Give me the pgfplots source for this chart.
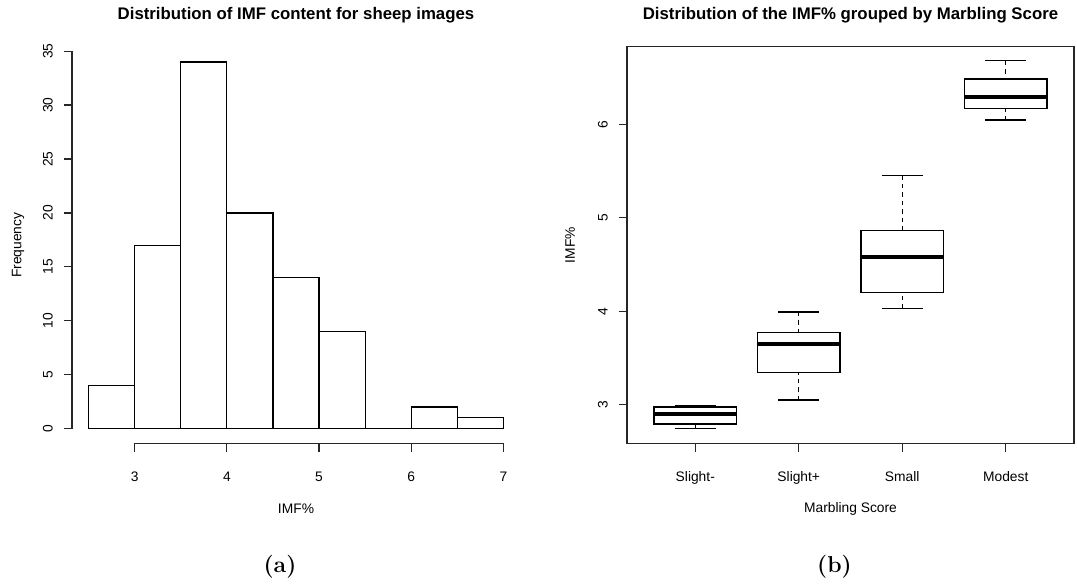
\documentclass[border=0pt]{standalone}
\usepackage{fontspec}
\setsansfont{Liberation Sans}
\usepackage{pgfplots}
\pgfplotsset{compat=1.18}
\usepgfplotslibrary{statistics}

% R base-graphics look: outside ticks, sans labels, rotated y tick labels
\pgfplotsset{
  rplot/.style={
    scale only axis,
    /pgf/number format/assume math mode=true,
    tick align=outside,
    tick pos=left,
    major tick length=4.2pt,
    every tick/.style={black!85, line width=0.6pt},
    ticklabel style={font=\sffamily\fontsize{6.9}{8}\selectfont, text=black},
    xticklabel style={anchor=north, yshift=-6.5pt},
    yticklabel style={xshift=-1.9pt, rotate=90, anchor=south},
    label style={font=\sffamily\fontsize{6.9}{8}\selectfont, text=black},
    % cancel the default 6pt lift of the title
    title style={font=\sffamily\bfseries\fontsize{8.4}{10}\selectfont, text=black, anchor=center, yshift=-6pt},
  },
}
\tikzset{
  rwhisker/.style={black, line width=0.6pt, dash pattern=on 2.2pt off 2pt},
  rstaple/.style={black, line width=0.6pt, solid},
}

\begin{document}
\begin{tikzpicture}
\path[use as bounding box] (0,0) rectangle (538.5pt,292.5pt);

% (a) histogram of IMF content
\begin{axis}[rplot,
  at={(36pt,70.9pt)}, anchor=south west,
  width=224pt, height=197.95pt,
  xmin=2.32, xmax=7.18, ymin=-1.36, ymax=35.36,
  axis lines*=left, axis line style={draw=none},
  xtick={3,4,5,6,7}, ytick={0,5,...,35},
  clip=false,
  title={Distribution of IMF content for sheep images},
  title style={at={(axis description cs:0.5,1.0803)}},
  xlabel={IMF\%},
  xlabel style={at={(axis description cs:0.5,-0.1667)}, anchor=center},
  ylabel={Frequency},
  ylabel style={at={(axis description cs:-0.1205,0.5)}, anchor=center},
]
\addplot[ybar interval, fill=white, draw=black, line width=0.6pt]
  coordinates {(2.5,4) (3,17) (3.5,34) (4,20) (4.5,14) (5,9) (5.5,0) (6,2) (6.5,1) (7,1)};
% axis lines span only the tick range
\draw[black!85, line width=0.6pt] (axis cs:3,-1.36) -- (axis cs:7,-1.36);
\draw[black!85, line width=0.6pt] (axis cs:2.32,0) -- (axis cs:2.32,35);
\end{axis}

% (b) boxplots of IMF% by marbling score
\begin{axis}[rplot,
  at={(313.5pt,70.85pt)}, anchor=south west,
  width=223.5pt, height=198.3pt,
  xmin=0.34, xmax=4.66, ymin=2.584, ymax=6.834,
  axis line style={black!85, line width=0.6pt},
  xtick={1,2,3,4}, xticklabels={Slight-,Slight+,Small,Modest},
  ytick={3,4,5,6},
  title={Distribution of the IMF\% grouped by Marbling Score},
  title style={at={(axis description cs:0.5,1.0787)}},
  xlabel={Marbling Score},
  xlabel style={at={(axis description cs:0.5,-0.1665)}, anchor=center},
  ylabel={IMF\%},
  ylabel style={at={(axis description cs:-0.1275,0.5)}, anchor=center},
  boxplot/draw direction=y,
  boxplot/every median/.style={line width=2pt},
  boxplot/draw/lower whisker/.code={%
    \draw[rwhisker]
      (boxplot cs:\pgfplotsboxplotvalue{lower whisker}) --
      (boxplot cs:\pgfplotsboxplotvalue{lower quartile});
    \draw[rstaple]
      (boxplot whisker cs:\pgfplotsboxplotvalue{lower whisker},0) --
      (boxplot whisker cs:\pgfplotsboxplotvalue{lower whisker},1);
  },
  boxplot/draw/upper whisker/.code={%
    \draw[rwhisker]
      (boxplot cs:\pgfplotsboxplotvalue{upper whisker}) --
      (boxplot cs:\pgfplotsboxplotvalue{upper quartile});
    \draw[rstaple]
      (boxplot whisker cs:\pgfplotsboxplotvalue{upper whisker},0) --
      (boxplot whisker cs:\pgfplotsboxplotvalue{upper whisker},1);
  },
]
\addplot[black, solid, line width=0.7pt, boxplot prepared={draw position=1,
  lower whisker=2.743, lower quartile=2.793, median=2.893,
  upper quartile=2.975, upper whisker=2.989,
  box extend=0.8, whisker extend=0.4}] coordinates {};
\addplot[black, solid, line width=0.7pt, boxplot prepared={draw position=2,
  lower whisker=3.048, lower quartile=3.341, median=3.648,
  upper quartile=3.769, upper whisker=3.991,
  box extend=0.8, whisker extend=0.4}] coordinates {};
\addplot[black, solid, line width=0.7pt, boxplot prepared={draw position=3,
  lower whisker=4.026, lower quartile=4.198, median=4.577,
  upper quartile=4.862, upper whisker=5.452,
  box extend=0.8, whisker extend=0.4}] coordinates {};
\addplot[black, solid, line width=0.7pt, boxplot prepared={draw position=4,
  lower whisker=6.048, lower quartile=6.169, median=6.295,
  upper quartile=6.488, upper whisker=6.684,
  box extend=0.8, whisker extend=0.4}] coordinates {};
\end{axis}

% panel captions
\node[font=\rmfamily\bfseries\fontsize{11.5}{13}\selectfont] at (140pt,9pt) {(a)};
\node[font=\rmfamily\bfseries\fontsize{11.5}{13}\selectfont] at (417.25pt,9pt) {(b)};
\end{tikzpicture}
\end{document}
